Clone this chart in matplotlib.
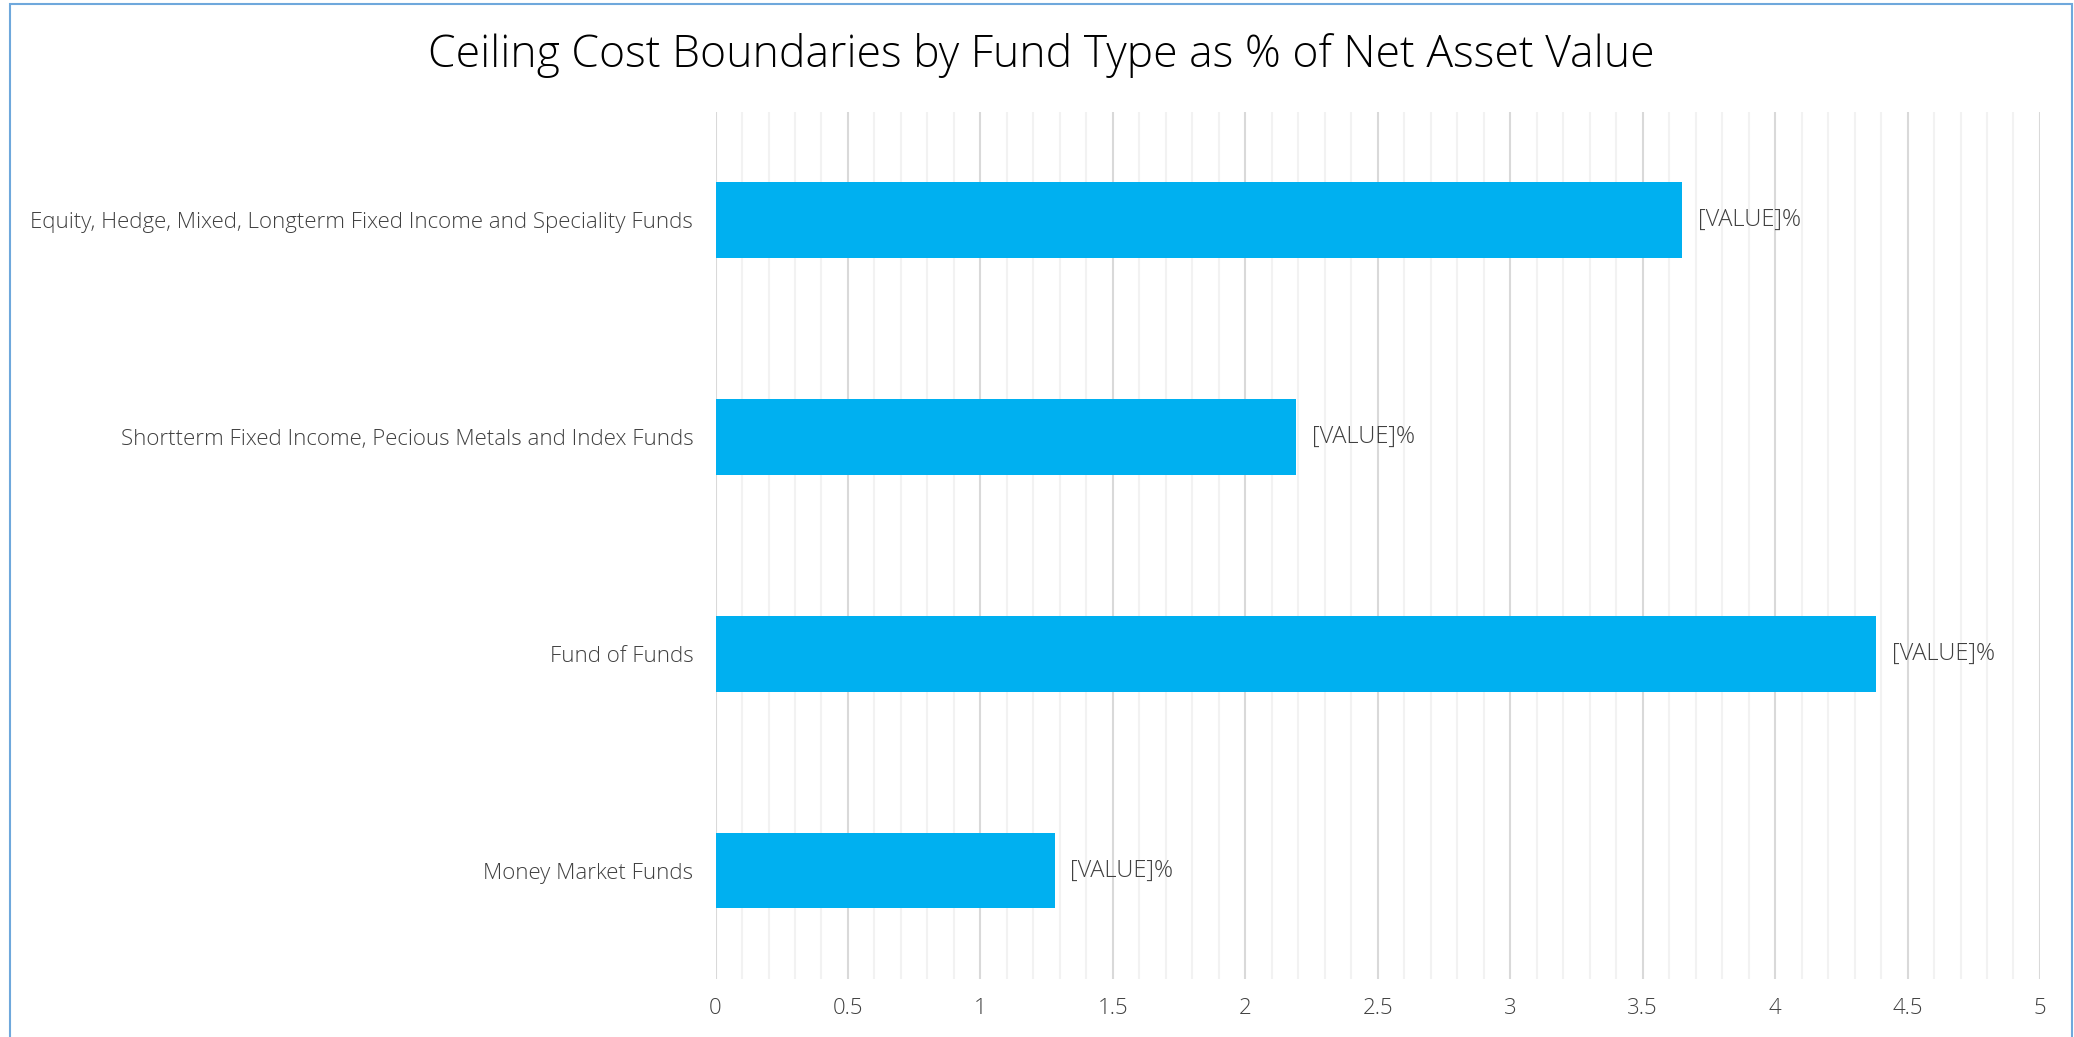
import matplotlib
matplotlib.use('Agg')
import matplotlib.pyplot as plt
from matplotlib.patches import Rectangle
from matplotlib.ticker import MultipleLocator
from matplotlib import font_manager

categories = ['Money Market Funds',
              'Fund of Funds',
              'Shortterm Fixed Income, Pecious Metals and Index Funds',
              'Equity, Hedge, Mixed, Longterm Fixed Income and Speciality Funds']
values = [1.28, 4.38, 2.19, 3.65]
bar_labels = ['[VALUE]%', '[VALUE]%', '[VALUE]%', '[VALUE]%']
xticks = [0, 0.5, 1, 1.5, 2, 2.5, 3, 3.5, 4, 4.5, 5]
xticklabels = ['0', '0.5', '1', '1.5', '2', '2.5', '3', '3.5', '4', '4.5', '5']
title = 'Ceiling Cost Boundaries by Fund Type as % of Net Asset Value'

names = {f.name for f in font_manager.fontManager.ttflist}
family = 'Open Sans' if 'Open Sans' in names else 'DejaVu Sans'
plt.rcParams['font.family'] = [family, 'DejaVu Sans']

fig = plt.figure(figsize=(20.74, 10.37), dpi=100)
ax = fig.add_axes([0.345, 0.056, 0.6386, 0.836])

pos = list(range(len(categories)))
ax.barh(pos, values, height=0.35, color='#00B0F0', zorder=3)
for p, v, t in zip(pos, values, bar_labels):
    ax.text(v + 0.06, p, t, va='center', ha='left', fontsize=17,
            color='#404040', fontweight='light')

ax.set_xlim(0, 5)
ax.set_ylim(-0.5, 3.5)
ax.set_yticks(pos)
ax.set_yticklabels(categories, fontsize=16, color='#404040', fontweight='light')
ax.set_xticks(xticks)
ax.set_xticklabels(xticklabels, fontsize=16, color='#404040', fontweight='light')
ax.xaxis.set_minor_locator(MultipleLocator(0.1))
ax.grid(axis='x', which='major', color='#D9D9D9', linewidth=1.5, zorder=0)
ax.grid(axis='x', which='minor', color='#F2F2F2', linewidth=1.5, zorder=0)
ax.tick_params(axis='both', which='both', length=0)
ax.tick_params(axis='x', pad=14)
ax.tick_params(axis='y', pad=16)
for s in ax.spines.values():
    s.set_visible(False)

fig.text(0.502, 0.946, title, ha='center', va='center', fontsize=32,
         color='black', fontweight='light')

fig.patches.append(Rectangle((0.005, -0.01), 0.994, 1.006, transform=fig.transFigure,
                             fill=False, edgecolor='#6FA8DC', linewidth=1.5))

fig.savefig('out.png', dpi=100)
